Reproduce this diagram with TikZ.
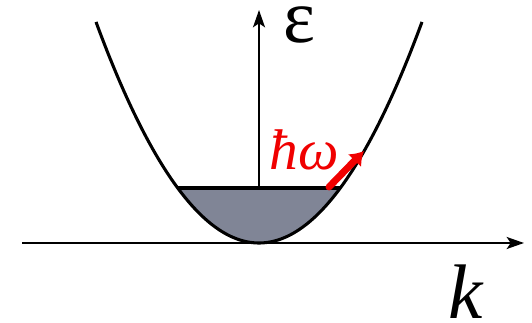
\documentclass[tikz,border=0pt]{standalone}
\usepackage{fontspec}
\setmainfont{Liberation Serif}
\usetikzlibrary{arrows.meta}
\definecolor{band}{RGB}{128,133,150}
\definecolor{photon}{RGB}{240,0,0}
\tikzset{
  axis/.style={line width=1.5pt,-{Stealth[length=13pt,width=9pt,inset=3pt]}},
  curve/.style={line width=2.3pt},
  jump/.style={line width=5.2pt,photon,line cap=round,-{Latex[length=10pt,width=14pt]}},
  lbl/.style={inner sep=0pt,text=black,text depth=0pt}
}

\begin{document}
\begin{tikzpicture}[x=0.75pt,y=-0.75pt]
  \useasboundingbox (0,0) rectangle (532,323);
  \coordinate (o) at (259,243);
  \coordinate (kstart) at (22,243);
  \coordinate (kend) at (524,243);
  \coordinate (efermi) at (259,188);
  \coordinate (etop) at (259,10);
  % filled states
  \fill[band] plot[domain=-81.3:81.3,samples=60] ({259+\x},{243-0.832*((\x)/10)^2}) -- cycle;
  \draw[curve] (178,188) -- (340,188);
  % band
  \draw[curve] plot[domain=-163:163,samples=120] ({259+\x},{243-0.832*((\x)/10)^2});
  % axes
  \draw[axis] (kstart) -- (kend);
  \draw[axis] (efermi) -- (etop);
  \node[lbl,text height=22pt,font=\fontsize{57}{57}\selectfont] (eps) at (299,28) {ε};
  \node[lbl,text height=40pt,font=\fontsize{58}{58}\selectfont\itshape] (k) at (466,292) {k};
  % excitation
  \coordinate (jfrom) at (329,187);
  \coordinate (jto) at (364,151);
  \draw[jump] (jfrom) -- (jto);
  \node[lbl,text=photon,text height=29pt,font=\fontsize{43}{43}\selectfont\itshape] (hw) at (304,150) {ħω};
\end{tikzpicture}
\end{document}
